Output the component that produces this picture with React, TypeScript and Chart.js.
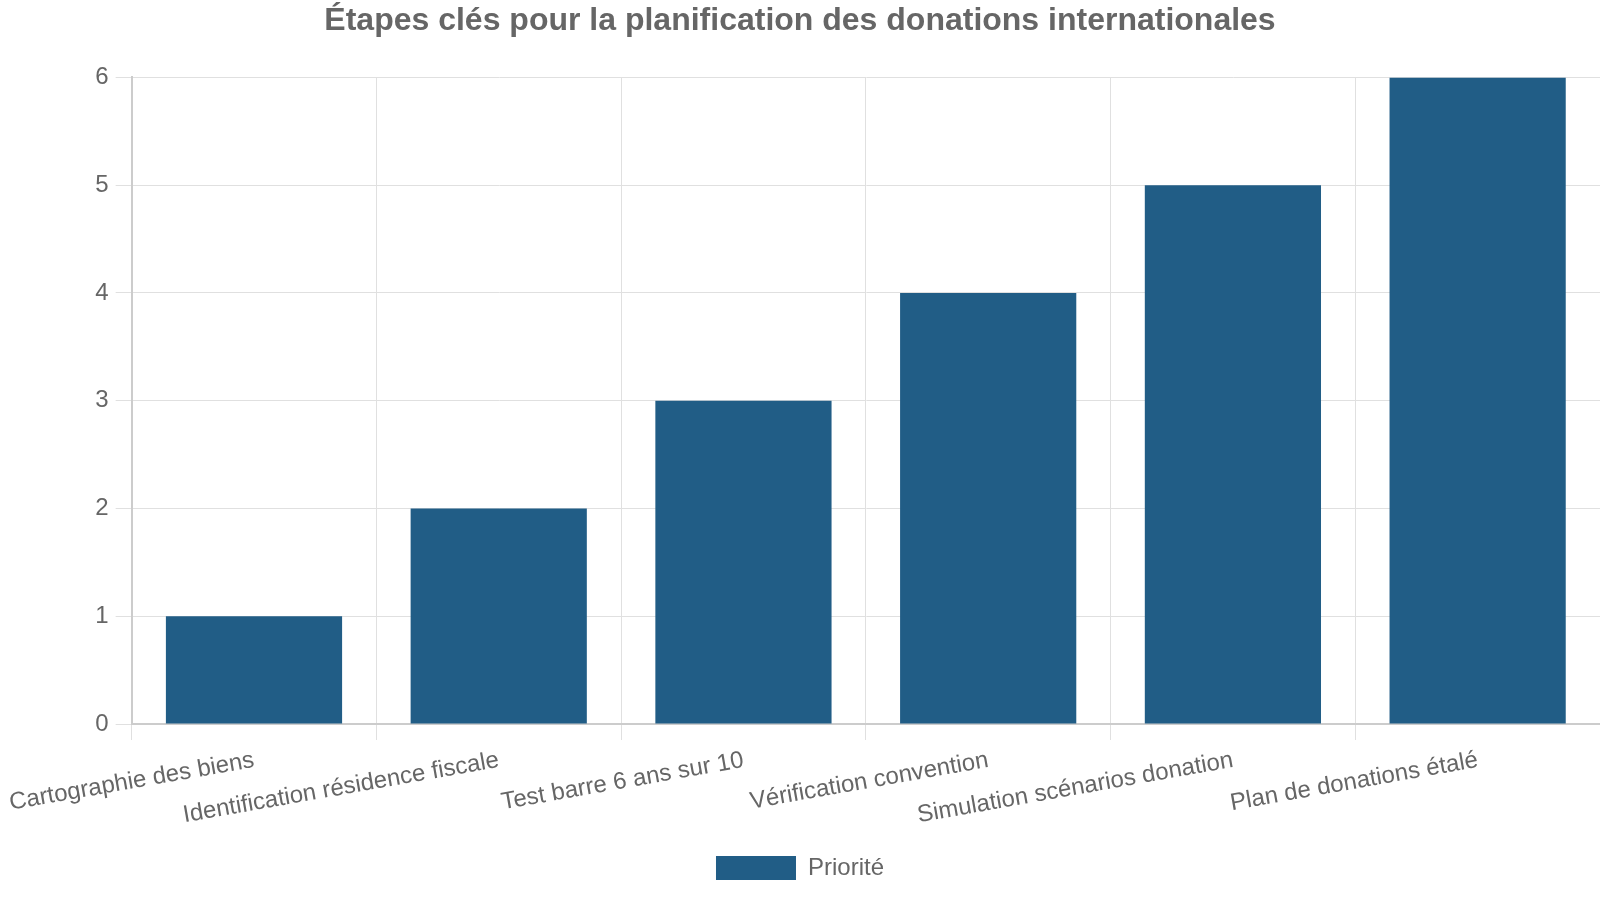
import React, { useEffect, useRef } from "react";
import { Chart, registerables } from "chart.js";

Chart.register(...registerables);

const categories = [
  "Cartographie des biens",
  "Identification résidence fiscale",
  "Test barre 6 ans sur 10",
  "Vérification convention",
  "Simulation scénarios donation",
  "Plan de donations étalé",
];
const priorityValues = [1, 2, 3, 4, 5, 6];
const seriesLabel = "Priorité";
const chartTitle = "Étapes clés pour la planification des donations internationales";

const FONT = "'Liberation Sans', Arial, sans-serif";
const TEXT = "#666666";
const BAR = "#215d86";

export default function App() {
  const ref = useRef<HTMLCanvasElement | null>(null);

  useEffect(() => {
    if (!ref.current) return;
    const chart = new Chart(ref.current, {
      type: "bar",
      data: {
        labels: categories,
        datasets: [
          {
            label: seriesLabel,
            data: priorityValues,
            backgroundColor: BAR,
            borderWidth: 0,
          },
        ],
      },
      options: {
        animation: false,
        responsive: true,
        maintainAspectRatio: false,
        layout: { padding: { left: 0, right: 0, top: 0, bottom: 10 } },
        plugins: {
          title: {
            display: true,
            text: chartTitle,
            color: TEXT,
            font: { family: FONT, size: 32, weight: "bold" },
            padding: { top: 2, bottom: 37 },
          },
          legend: {
            position: "bottom",
            labels: {
              color: TEXT,
              font: { family: FONT, size: 24 },
              boxWidth: 80,
              boxHeight: 24,
              padding: 12,
            },
          },
          tooltip: { enabled: false },
        },
        scales: {
          x: {
            ticks: {
              color: TEXT,
              font: { family: FONT, size: 24 },
              minRotation: 10,
              maxRotation: 10,
              padding: 6,
            },
            grid: { color: "#e0e0e0", tickLength: 16 },
            border: { color: "#cccccc", width: 2 },
            // extra room between the category labels and the legend
            afterFit: (scale: any) => {
              scale.height += 8;
            },
          },
          y: {
            min: 0,
            max: 6,
            ticks: {
              stepSize: 1,
              color: TEXT,
              font: { family: FONT, size: 24 },
              padding: 7,
            },
            grid: { color: "#e0e0e0", tickLength: 16 },
            border: { color: "#cccccc", width: 2 },
          },
        },
      },
    });
    return () => chart.destroy();
  }, []);

  return (
    <div style={{ position: "fixed", left: 0, top: 0, width: 1600, height: 900, background: "#fff" }}>
      <canvas ref={ref} />
    </div>
  );
}
